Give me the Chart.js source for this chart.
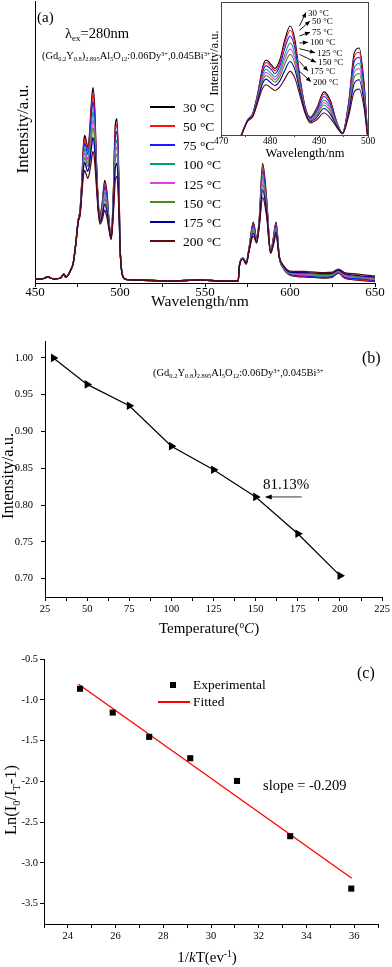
<!DOCTYPE html>
<html><head><meta charset="utf-8">
<script src="https://cdn.jsdelivr.net/npm/chart.js@4/dist/chart.umd.min.js"></script>
<style>
html,body{margin:0;padding:0;background:#fff;}
#wrap{position:relative;width:392px;height:967px;overflow:hidden;font-family:"Liberation Serif","Times New Roman",serif;color:#000;background:#fff;}
canvas{position:absolute;}
.l,.c,.r{position:absolute;white-space:nowrap;line-height:1;}
.l{transform:translateY(-50%);}
.c{transform:translate(-50%,-50%);}
.r{transform:translate(-50%,-50%) rotate(-90deg);}
sub,sup{font-size:.62em;line-height:0;position:relative;vertical-align:baseline;}
sub{top:.35em;} sup{top:-.5em;}
.sw{position:absolute;height:2px;}
</style></head>
<body><div id="wrap">
<canvas id="cA" width="392" height="320" style="left:0;top:0"></canvas>
<canvas id="cI" width="192" height="165" style="left:200px;top:0"></canvas>
<canvas id="cB" width="392" height="320" style="left:0;top:320px"></canvas>
<canvas id="cC" width="392" height="327" style="left:0;top:640px"></canvas>

<!-- panel (a) texts -->
<div class="r" style="left:22px;top:129px;font-size:17px">Intensity/a.u.</div>
<div class="c" style="left:200px;top:301px;font-size:15.5px">Wavelength/nm</div>
<div class="l" style="left:37px;top:17px;font-size:15px">(a)</div>
<div class="l" style="left:65px;top:33px;font-size:14.5px">λ<sub>ex</sub>=280nm</div>
<div class="l" style="left:42px;top:56px;font-size:10.4px">(Gd<sub>0.2</sub>Y<sub>0.8</sub>)<sub>2.895</sub>Al<sub>5</sub>O<sub>12</sub>:0.06Dy<sup>3+</sup>,0.045Bi<sup>3+</sup></div>
<div id="legA"></div>
<!-- inset texts -->
<div class="r" style="left:214px;top:63px;font-size:12.5px">Intensity/a.u.</div>
<div class="c" style="left:305px;top:153px;font-size:12.5px">Wavelength/nm</div>
<div id="legI"></div>

<!-- panel (b) texts -->
<div class="r" style="left:8px;top:476px;font-size:16.5px">Intensity/a.u.</div>
<div class="c" style="left:209px;top:628px;font-size:15px">Temperature(<sup>o</sup><i>C</i>)</div>
<div class="l" style="left:362px;top:358px;font-size:16px">(b)</div>
<div class="l" style="left:153px;top:373px;font-size:10.5px">(Gd<sub>0.2</sub>Y<sub>0.8</sub>)<sub>2.895</sub>Al<sub>5</sub>O<sub>12</sub>:0.06Dy<sup>3+</sup>,0.045Bi<sup>3+</sup></div>
<div class="l" style="left:263px;top:484px;font-size:15px">81.13%</div>

<!-- panel (c) texts -->
<div class="r" style="left:11px;top:800px;font-size:16.5px">Ln(I<sub>0</sub>/I<sub>T</sub>-1)</div>
<div class="c" style="left:207px;top:957px;font-size:15px">1/<i>k</i>T(ev<sup>-1</sup>)</div>
<div class="l" style="left:357px;top:673px;font-size:16px">(c)</div>
<div style="position:absolute;left:170px;top:682px;width:6px;height:6px;background:#000"></div>
<div class="l" style="left:193px;top:685px;font-size:13.5px">Experimental</div>
<div class="sw" style="left:158px;top:701px;width:32px;background:#ff0000"></div>
<div class="l" style="left:193px;top:702px;font-size:13.5px">Fitted</div>
<div class="l" style="left:263px;top:785px;font-size:14.5px">slope = -0.209</div>
</div>
<script>
// ---------- data: panel (a) emission spectra ----------
const wavelength = [450,454,457.5,461,465,467,468,469.5,471,472.5, 474,475.4,476.5,477.5,478.5,479.2,480.3,481,482,483, 484.1,485.1,486.1,487.2,488.2,489.6,491,492.3,493.7,494.8, 496.1,497.2,498.2,499.2,500,501,503,510,530,547, 560,569.5,570.3,572.4,574.2,576,578.4,580.4,582,583.9, 586.3,588.6,590.2,591.8,593.7,596,600,610,620,625, 628.5,632,640,650];
const i30  = [4,4,6,4,5,9,6,8,13,20, 40,63,73,101,138,148,141,136,148,176, 196,176,124,81,67,81,103,91,59,45, 91,158,165,115,40,12,4,3,2,3, 2,2,18,25,20,36,61,45,66,120, 83,31,45,61,26,15,8,6,5,6, 10,5,3,1.5];
const i50  = [4,4,6,4,5,9,6,8,13,20, 40,63,72.5,100,135,144.5,138,133,144,170.5, 190,170.5,121.5,80,66,79.5,100,88.5,58.5,45, 89,152.5,159,111.5,39.5,12,4,3,2,3, 2,2,18,25,20,35.5,59.5,44.5,65,116.5, 81.5,31,44.5,59.5,26,15.5,8.5,6.5,5.5,6.5, 10.5,5.5,3.5,2];
const i75  = [4,4,6,4,5,9,6,8,13,20, 40,62.5,72,98,131,140,134,129,139.5,164, 182,164,118,79,65,77,96.5,85.5,57.5,45, 86.5,146,152,107.5,39,12,4,3,2,3, 2,2,18,25,20,35.5,58,44,64,112.5, 79,31,43.5,58,26,15.5,9,7,6,7, 11,6,4.5,2.5];
const i100 = [4,4,6,4,5,9,6,8,13,20, 40,62,71,96,127,135,128.5,124,133.5,155, 172,155.5,114,77.5,64,74.5,91.5,81.5,56.5,44.5, 83,137,143,101.5,38.5,12,4,3,2,3, 2,2,18,24.5,19.5,35,55.5,43,63,107, 76.5,30.5,42.5,56,26,16,9.5,8,7,8, 11.5,7,5.5,3.5];
const i125 = [4,4,6,4,5,9,6,8,13,20, 39.5,62,70.5,94.5,123,130.5,124.5,120.5,129,148.5, 164,149,111,76.5,63,72.5,88,78.5,55.5,44.5, 80.5,130.5,136,97.5,38,12,4,3,2,3, 2,2,18,24.5,19.5,34.5,54,42.5,62,103, 74.5,30.5,41.5,54.5,26,16.5,10,8.5,7.5,8.5, 12,7.5,6,4.5];
const i150 = [4,4,6,4,5,9,6,8,13,20, 39.5,62,70,93,119,126,120.5,117,124.5,142, 156,142.5,108,75.5,62,70.5,84.5,75.5,54.5,44.5, 78,124,129,93.5,37.5,12,4,3,2,3, 2,2,18,24.5,19.5,34,52.5,42,61,99, 72.5,30.5,40.5,53,26,17,10.5,9.5,8.5,9, 12.5,8.5,6.5,5];
const i175 = [4,4,6,4,5,9,6,8,13,20, 39,61.5,69,91,115,121,115,112,118.5,133, 146,134,104,74,61,67.5,79.5,71.5,53.5,44, 74.5,115,120,87.5,37,12,4,3,2,3, 2,2,18,24,19,33.5,50,41,60,93.5, 69.5,30,39.5,51,26,17.5,11,10.5,9.5,10, 13,9.5,7.5,6];
const i200 = [4,4,6,4,5,9,6,8,13,20, 39,61,68,88,108,113,108,105,110,121, 132,122,98,72,59,64,73,66,52,44, 70,103,107,80,36,12,4,3,2,3, 2,2,18,24,19,33,47,40,58,86, 66,30,38,48,26,18,12,11.5,10.5,11, 14,10.5,9,7];
const tempLabels = ['30 °C','50 °C','75 °C','100 °C','125 °C','150 °C','175 °C','200 °C'];
const specTicks = [450,475,500,525,550,575,600,625,650];
const insetTicks = [470,475,480,485,490,495,500];

// ---------- data: panel (b) ----------
const temperature = [30,50,75,100,125,150,175,200];
const relIntensity = [1.00,0.964,0.935,0.880,0.848,0.811,0.761,0.704];
const tempTicks = [25,37.5,50,62.5,75,87.5,100,112.5,125,137.5,150,162.5,175,187.5,200,212.5,225];
const relTicks = [0.70,0.75,0.80,0.85,0.90,0.95,1.00];

// ---------- data: panel (c) ----------
const invKT = [24.51,25.88,27.41,29.13,31.09,33.32,35.88];
const lnRatio = [-0.865,-1.157,-1.455,-1.717,-1.996,-2.673,-3.316];
const fitX = [24.45,35.9];
const fitY = [-0.81,-3.19];
const kTTicks = [23,24,25,26,27,28,29,30,31,32,33,34,35,36,37];
const lnTicks = [-3.5,-3.0,-2.5,-2.0,-1.5,-1.0,-0.5];

const series = [i30,i50,i75,i100,i125,i150,i175,i200];
const colors = ['#000000','#ff1010','#1a1aff','#00a078','#e040e0','#4a8a20','#0000a0','#600810'];
const FONT = '"Liberation Serif", "Times New Roman", serif';
Chart.defaults.font.family = FONT;
Chart.defaults.color = '#000';

function spectraSets(lw){
  return series.map((s,i)=>({
    label: tempLabels[i],
    data: wavelength.map((w,k)=>({x:w,y:s[k]})),
    borderColor: colors[i], backgroundColor: colors[i],
    borderWidth: lw, pointRadius: 0, fill: false,
    cubicInterpolationMode: 'monotone',
    order: series.length - 1 - i
  }));
}
const base = {responsive:false, animation:false, events:[], plugins:{legend:{display:false}, tooltip:{enabled:false}}};
const setTicks = arr => a => { a.ticks = arr.map(v=>({value:v})); };

// panel (a)
new Chart(document.getElementById('cA'), {
  type:'line',
  data:{datasets: spectraSets(1.3)},
  options:{...base,
    layout:{padding:{left:0,top:1,right:17,bottom:0}},
    scales:{
      x:{type:'linear', min:450, max:650, afterBuildTicks:setTicks(specTicks),
         ticks:{autoSkip:false, maxRotation:0, padding:-2, font:{size:13}, callback:v=> v%50===0 ? String(v) : ''},
         grid:{drawOnChartArea:false, drawTicks:true, tickLength:4, color:'#000'},
         border:{display:true, color:'#000', width:1},
         afterFit:a=>{a.height=37;}},
      y:{min:0, max:283, ticks:{display:false}, grid:{display:false},
         border:{display:true, color:'#000', width:1},
         afterFit:a=>{a.width=35;}}
    }
  }
});

// inset
const arrowHeads = [[106,12.5],[110,21],[110,32.3],[108,42.3],[115,52.7],[116,62.3],[108,71],[111,81.7]];
const insetDecor = {
  id:'insetDecor',
  afterDatasetsDraw(chart){
    const {ctx, chartArea:a, scales:{x,y}} = chart;
    ctx.save();
    ctx.strokeStyle='#444'; ctx.lineWidth=1;
    ctx.strokeRect(Math.round(a.left)+0.5, Math.round(a.top)+0.5, Math.round(a.right-a.left), Math.round(a.bottom-a.top));
    const pk = wavelength.indexOf(484.1);
    ctx.strokeStyle='#000'; ctx.fillStyle='#000'; ctx.lineWidth=0.9;
    series.forEach((s,i)=>{
      const tx = x.getPixelForValue(486), ty = y.getPixelForValue(s[pk]);
      const [hx,hy] = arrowHeads[i];
      const ang = Math.atan2(hy-ty, hx-tx);
      ctx.beginPath(); ctx.moveTo(tx,ty); ctx.lineTo(hx,hy); ctx.stroke();
      ctx.beginPath();
      ctx.moveTo(hx,hy);
      ctx.lineTo(hx-5*Math.cos(ang)+2.2*Math.sin(ang), hy-5*Math.sin(ang)-2.2*Math.cos(ang));
      ctx.lineTo(hx-5*Math.cos(ang)-2.2*Math.sin(ang), hy-5*Math.sin(ang)+2.2*Math.cos(ang));
      ctx.closePath(); ctx.fill();
    });
    ctx.restore();
  }
};
new Chart(document.getElementById('cI'), {
  type:'line',
  data:{datasets: spectraSets(1.1)},
  options:{...base,
    layout:{padding:{left:0,top:2,right:24,bottom:0}},
    scales:{
      x:{type:'linear', min:470, max:500, afterBuildTicks:setTicks(insetTicks),
         ticks:{autoSkip:false, maxRotation:0, padding:-1, font:{size:9.5}, callback:v=> v%10===0 ? String(v) : ''},
         grid:{drawOnChartArea:false, drawTicks:true, tickLength:2, color:'#444'},
         border:{display:true, color:'#444', width:1},
         afterFit:a=>{a.height=30;}},
      y:{min:42, max:230, ticks:{display:false}, grid:{display:false},
         border:{display:true, color:'#444', width:1},
         afterFit:a=>{a.width=21;}}
    }
  },
  plugins:[insetDecor]
});

// panel (b)
const arrowB = {
  id:'arrowB',
  afterDatasetsDraw(chart){
    const {ctx, scales:{x,y}} = chart;
    const hx = x.getPixelForValue(temperature[5]) + 9, hy = y.getPixelForValue(relIntensity[5]);
    ctx.save(); ctx.strokeStyle='#000'; ctx.fillStyle='#000'; ctx.lineWidth=0.8;
    ctx.beginPath(); ctx.moveTo(hx+37,hy); ctx.lineTo(hx+3,hy); ctx.stroke();
    ctx.beginPath(); ctx.moveTo(hx,hy); ctx.lineTo(hx+7,hy-2.5); ctx.lineTo(hx+7,hy+2.5); ctx.closePath(); ctx.fill();
    ctx.restore();
  }
};
new Chart(document.getElementById('cB'), {
  type:'line',
  data:{datasets:[{
    data: temperature.map((t,i)=>({x:t,y:relIntensity[i]})),
    borderColor:'#000', backgroundColor:'#000', borderWidth:1.2,
    pointStyle:'triangle', rotation:90, pointRadius:5, pointBorderWidth:0, tension:0
  }]},
  options:{...base,
    layout:{padding:{left:0,top:21,right:9,bottom:0}},
    scales:{
      x:{type:'linear', min:25, max:225, afterBuildTicks:setTicks(tempTicks),
         ticks:{autoSkip:false, maxRotation:0, padding:2, font:{size:10.5}, callback:v=> v%25===0 ? String(v) : ''},
         grid:{drawOnChartArea:false, drawTicks:true, tickLength:4, color:'#000'},
         border:{display:true, color:'#000', width:1},
         afterFit:a=>{a.height=43;}},
      y:{min:0.675, max:1.023, afterBuildTicks:setTicks(relTicks),
         ticks:{autoSkip:false, padding:8, font:{size:10.5}, callback:v=> v.toFixed(2)},
         grid:{drawOnChartArea:false, drawTicks:true, tickLength:4, color:'#000'},
         border:{display:true, color:'#000', width:1},
         afterFit:a=>{a.width=45;}}
    }
  },
  plugins:[arrowB]
});

// panel (c)
new Chart(document.getElementById('cC'), {
  type:'scatter',
  data:{datasets:[
    {label:'Experimental', data: invKT.map((v,i)=>({x:v,y:lnRatio[i]})),
     pointStyle:'rect', pointRadius:4.3, backgroundColor:'#000', borderColor:'#000', pointBorderWidth:0, showLine:false, order:0},
    {label:'Fitted', type:'line', data: fitX.map((v,i)=>({x:v,y:fitY[i]})),
     borderColor:'#ff0000', borderWidth:1.3, pointRadius:0, fill:false, order:1}
  ]},
  options:{...base,
    layout:{padding:{left:0,top:19,right:14,bottom:0}},
    scales:{
      x:{type:'linear', min:23, max:37, afterBuildTicks:setTicks(kTTicks),
         ticks:{autoSkip:false, maxRotation:0, padding:2, font:{size:10.5}, callback:v=> v%2===0 ? String(v) : ''},
         grid:{drawOnChartArea:false, drawTicks:true, tickLength:4, color:'#000'},
         border:{display:true, color:'#000', width:1},
         afterFit:a=>{a.height=43;}},
      y:{min:-3.75, max:-0.5, afterBuildTicks:setTicks(lnTicks),
         ticks:{autoSkip:false, padding:2, font:{size:10.5}, callback:v=> v.toFixed(1)},
         grid:{drawOnChartArea:false, drawTicks:true, tickLength:4, color:'#000'},
         border:{display:true, color:'#000', width:1},
         afterFit:a=>{a.width=44;}}
    }
  }
});

// legends (HTML)
const legA = document.getElementById('legA');
const legRows = [106.7,126,145,164,183.3,202.3,221.7,240.7];
tempLabels.forEach((t,i)=>{
  const sw = document.createElement('div'); sw.className='sw';
  sw.style.cssText = `left:150px;top:${legRows[i]-1}px;width:25px;background:${colors[i]}`;
  legA.appendChild(sw);
  const tx = document.createElement('div'); tx.className='l';
  tx.style.cssText = `left:183px;top:${legRows[i]+1.3}px;font-size:13.5px`;
  tx.textContent = t; legA.appendChild(tx);
});
const legI = document.getElementById('legI');
const insetLab = [[308,12.7],[312,21],[312,32.3],[310,42.3],[317,52.7],[318,62.3],[310,71],[313,81.7]];
tempLabels.forEach((t,i)=>{
  const tx = document.createElement('div'); tx.className='l';
  tx.style.cssText = `left:${insetLab[i][0]}px;top:${insetLab[i][1]}px;font-size:9px`;
  tx.textContent = t; legI.appendChild(tx);
});
</script>
</body></html>
